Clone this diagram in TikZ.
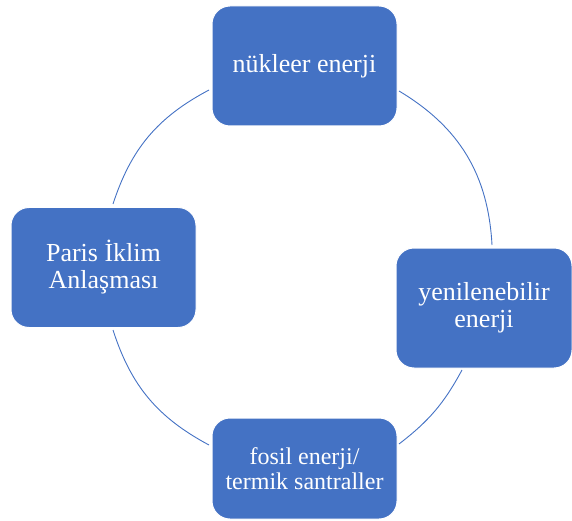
\documentclass[tikz,border=0pt]{standalone}
\usepackage{fontspec}
\setmainfont{Liberation Serif}
\usetikzlibrary{positioning}
\definecolor{cycleblue}{HTML}{4472C4}

\begin{document}
\begin{tikzpicture}[
  x=1pt, y=-1pt,
  topic/.style={draw=white, line width=1pt, fill=cycleblue, rounded corners=18pt,
    text=white, align=center, minimum width=185pt, minimum height=120pt,
    inner sep=2pt, font=\fontsize{26}{27}\selectfont},
  link/.style={draw=cycleblue, line width=0.9pt}
]
\useasboundingbox (0,0) rectangle (572,521);

% Topics round the cycle
\node[topic] (nuclear) at (304.5,66) {nükleer enerji};
\node[topic, minimum width=176pt] (renew) at (484,308) {yenilenebilir\\enerji};
\node[topic, minimum height=101pt, font=\fontsize{24}{25}\selectfont] (fossil) at (304.5,468.5) {fosil enerji/\\termik santraller};
\node[topic] (paris) at (103.5,267.5) {Paris İklim\\Anlaşması};

% Arc ends
\coordinate (nr1) at (399,91);
\coordinate (nr2) at (492,245);
\coordinate (rf1) at (462,370);
\coordinate (rf2) at (399,444);
\coordinate (fp1) at (209,445);
\coordinate (fp2) at (113,330);
\coordinate (pn1) at (113,204);
\coordinate (pn2) at (209,90);

% Arcs
\draw[link] (nr1) to[bend left=28] (nr2);
\draw[link] (rf1) to[bend left=12] (rf2);
\draw[link] (fp1) to[bend left=22] (fp2);
\draw[link] (pn1) to[bend left=22] (pn2);

\end{tikzpicture}
\end{document}
